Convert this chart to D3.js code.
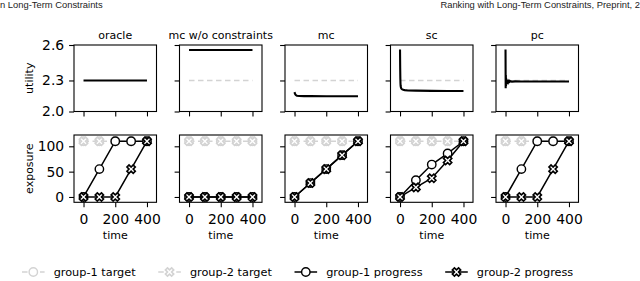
<!DOCTYPE html>
<html>
<head>
<meta charset="utf-8">
<script src="https://cdn.jsdelivr.net/npm/d3@7"></script>
<style>
  body { margin: 0; background: #fff; }
  svg { display: block; }
</style>
</head>
<body>
<svg id="chart" width="640" height="281"></svg>
<script>
// panel titles
const methods = ["oracle", "mc w/o constraints", "mc", "sc", "pc"];

// utility over time
const oracleUtilT = [0, 400];
const oracleUtil = [2.28, 2.28];
const mcwoUtilT = [0, 400];
const mcwoUtil = [2.555, 2.555];
const mcUtilT = [0, 3, 8, 15, 30, 60, 100, 200, 300, 400];
const mcUtil = [2.175, 2.16, 2.148, 2.142, 2.14, 2.139, 2.139, 2.138, 2.138, 2.137];
const scUtilT = [0, 1, 2, 3, 4, 6, 8, 12, 20, 30, 50, 100, 200, 300, 400];
const scUtil = [2.56, 2.40, 2.30, 2.25, 2.23, 2.215, 2.208, 2.202, 2.196, 2.193, 2.19, 2.188, 2.186, 2.185, 2.185];
const pcUtilT = [0, 1, 2, 3, 4, 5, 6, 8, 10, 12, 15, 18, 22, 26, 30, 40, 60, 100, 200, 300, 400];
const pcUtil = [2.56, 2.21, 2.33, 2.23, 2.30, 2.24, 2.29, 2.25, 2.285, 2.26, 2.28, 2.265, 2.277, 2.268, 2.274, 2.27, 2.272, 2.271, 2.271, 2.271, 2.271];

// exposure snapshots
const times = [0, 100, 200, 300, 400];
const target = [110, 110, 110, 110, 110];
const oracleG1 = [0, 55, 110, 110, 110];
const oracleG2 = [0, 0, 0, 55, 110];
const mcwoG1 = [0, 0, 0, 0, 0];
const mcwoG2 = [0, 0, 0, 0, 0];
const mcG1 = [0, 27.5, 55, 82.5, 110];
const mcG2 = [0, 27.5, 55, 82.5, 110];
const scG1 = [0, 33, 64, 86, 110];
const scG2 = [0, 19, 37, 72, 110];
const pcG1 = [0, 55, 110, 110, 110];
const pcG2 = [0, 0, 0, 55, 110];

const utilTicks = [2.0, 2.28, 2.6];   // labels print as 2.0 / 2.3 / 2.6
const expoTicks = [0, 50, 100];
const timeTicks = [0, 200, 400];
const legendLabels = ["group-1 target", "group-2 target", "group-1 progress", "group-2 progress"];

const utilSeries = [
  {t: oracleUtilT, v: oracleUtil},
  {t: mcwoUtilT, v: mcwoUtil},
  {t: mcUtilT, v: mcUtil},
  {t: scUtilT, v: scUtil},
  {t: pcUtilT, v: pcUtil}
];
const expoSeries = [
  {g1: oracleG1, g2: oracleG2},
  {g1: mcwoG1, g2: mcwoG2},
  {g1: mcG1, g2: mcG2},
  {g1: scG1, g2: scG2},
  {g1: pcG1, g2: pcG2}
];

const svg = d3.select("#chart");
const font = "DejaVu Sans, sans-serif";
const grey = "#d3d3d3";

// layout
const left0 = 74, step = 105.5, pw = 82.5;
const top1 = 45, ph1 = 66.5;
const top2 = 135, ph2 = 67.3;

const x = d3.scaleLinear().domain([-60, 460]).range([0, pw]);
const yU = d3.scaleLinear().domain([2.0, 2.6]).range([ph1, 0]);
const yE = d3.scaleLinear().domain([-10.5, 122.3]).range([ph2, 0]);

// marker shapes
const ms = 8.4;
function xMarker(size) {
  const pts = [[-1,-3],[1,-3],[1,-1],[3,-1],[3,1],[1,1],[1,3],[-1,3],[-1,1],[-3,1],[-3,-1],[-1,-1]];
  const c = Math.SQRT1_2;
  return "M" + pts.map(p => {
    const px = p[0] / 6 * size, py = p[1] / 6 * size;
    return [(px * c - py * c).toFixed(2), (px * c + py * c).toFixed(2)].join(",");
  }).join("L") + "Z";
}
const xShape = xMarker(ms * 1.05);

function drawCircles(g, data, color) {
  g.selectAll(null).data(data).enter().append("circle")
    .attr("cx", d => d[0]).attr("cy", d => d[1]).attr("r", ms / 2)
    .attr("fill", "#fff").attr("stroke", color).attr("stroke-width", 1.4);
}
function drawXs(g, data, color) {
  g.selectAll(null).data(data).enter().append("path")
    .attr("d", xShape)
    .attr("transform", d => `translate(${d[0]},${d[1]})`)
    .attr("fill", "#fff").attr("stroke", color).attr("stroke-width", 1.6)
    .attr("stroke-linejoin", "miter");
}

function styleAxis(g, size) {
  g.select(".domain").remove();
  g.selectAll(".tick line").attr("stroke", "#000").attr("stroke-width", 1.1);
  g.selectAll(".tick text").attr("fill", "#000").style("font-family", font).style("font-size", size + "px");
}

methods.forEach((m, i) => {
  const px = left0 + i * step;

  // ---------- top row: utility ----------
  const g1 = svg.append("g").attr("transform", `translate(${px},${top1})`);

  const ya = d3.axisLeft(yU).tickValues(utilTicks).tickSize(4.9).tickPadding(4.9)
    .tickFormat(i === 0 ? d3.format(".1f") : () => "");
  g1.append("g").call(ya).call(g => styleAxis(g, 13.9));
  const xa = d3.axisBottom(x).tickValues(timeTicks).tickSize(4.9).tickFormat(() => "");
  g1.append("g").attr("transform", `translate(0,${ph1})`).call(xa).call(g => styleAxis(g, 13.9));

  const line = d3.line().x(d => x(d[0])).y(d => yU(d[1]));
  if (i > 0) {
    // oracle reference, dashed grey
    g1.append("path")
      .attr("d", line(oracleUtilT.map((t, k) => [t, oracleUtil[k]])))
      .attr("fill", "none").attr("stroke", grey).attr("stroke-width", 1.5)
      .attr("stroke-dasharray", "5.5,3.5");
  }
  const us = utilSeries[i];
  g1.append("path")
    .attr("d", line(us.t.map((t, k) => [t, us.v[k]])))
    .attr("fill", "none").attr("stroke", "#000").attr("stroke-width", 2.1)
    .attr("stroke-linejoin", "miter");

  g1.append("rect").attr("width", pw).attr("height", ph1)
    .attr("fill", "none").attr("stroke", "#000").attr("stroke-width", 1.1);

  g1.append("text")
    .attr("x", pw / 2).attr("y", -6.5)
    .attr("text-anchor", "middle")
    .style("font-family", font).style("font-size", "11px")
    .text(m);

  // ---------- bottom row: exposure ----------
  const g2 = svg.append("g").attr("transform", `translate(${px},${top2})`);

  const yb = d3.axisLeft(yE).tickValues(expoTicks).tickSize(4.9).tickPadding(4.9)
    .tickFormat(i === 0 ? d3.format("d") : () => "");
  g2.append("g").call(yb).call(g => styleAxis(g, 13.9));
  const xb = d3.axisBottom(x).tickValues(timeTicks).tickSize(4.9).tickPadding(7);
  g2.append("g").attr("transform", `translate(0,${ph2})`).call(xb).call(g => styleAxis(g, 13.9));

  const eLine = d3.line().x(d => x(d[0])).y(d => yE(d[1]));
  const tgt = times.map((t, k) => [x(t), yE(target[k])]);
  const es = expoSeries[i];
  const p1 = times.map((t, k) => [x(t), yE(es.g1[k])]);
  const p2 = times.map((t, k) => [x(t), yE(es.g2[k])]);

  // targets
  g2.append("path").attr("d", eLine(times.map((t, k) => [t, target[k]])))
    .attr("fill", "none").attr("stroke", grey).attr("stroke-width", 1.5)
    .attr("stroke-dasharray", "5.5,3.5");
  drawCircles(g2, tgt, grey);
  drawXs(g2, tgt, grey);

  // progress
  g2.append("path").attr("d", eLine(times.map((t, k) => [t, es.g1[k]])))
    .attr("fill", "none").attr("stroke", "#000").attr("stroke-width", 1.5);
  drawCircles(g2, p1, "#000");
  g2.append("path").attr("d", eLine(times.map((t, k) => [t, es.g2[k]])))
    .attr("fill", "none").attr("stroke", "#000").attr("stroke-width", 1.5);
  drawXs(g2, p2, "#000");

  g2.append("rect").attr("width", pw).attr("height", ph2)
    .attr("fill", "none").attr("stroke", "#000").attr("stroke-width", 1.1);

  g2.append("text")
    .attr("x", pw / 2).attr("y", 103.5)
    .attr("text-anchor", "middle")
    .style("font-family", font).style("font-size", "11px")
    .text("time");
});

// y-axis labels
svg.append("text")
  .attr("transform", `translate(33,${top1 + ph1 / 2}) rotate(-90)`)
  .attr("text-anchor", "middle")
  .style("font-family", font).style("font-size", "11px")
  .text("utility");
svg.append("text")
  .attr("transform", `translate(33,${top2 + ph2 / 2}) rotate(-90)`)
  .attr("text-anchor", "middle")
  .style("font-family", font).style("font-size", "11px")
  .text("exposure");

// legend, laid out like a one-row matplotlib legend
const legFs = 11.3;
const legY = 272;
const leg = svg.append("g");
let lx = 22;
legendLabels.forEach((lab, k) => {
  const color = k < 2 ? grey : "#000";
  const hl = 2 * legFs;
  const ln = leg.append("line")
    .attr("x1", lx).attr("x2", lx + hl).attr("y1", legY).attr("y2", legY)
    .attr("stroke", color).attr("stroke-width", 1.5);
  if (k < 2) ln.attr("stroke-dasharray", "5.5,3.5");
  if (k % 2 === 0) drawCircles(leg, [[lx + hl / 2, legY]], color);
  else drawXs(leg, [[lx + hl / 2, legY]], color);
  const txt = leg.append("text")
    .attr("x", lx + hl + 0.8 * legFs).attr("y", legY + 4)
    .style("font-family", font).style("font-size", legFs + "px")
    .text(lab);
  lx += hl + 0.8 * legFs + txt.node().getComputedTextLength() + 2 * legFs;
});

// page header fragments
const hdrFont = "Liberation Sans Narrow, Liberation Sans, sans-serif";
svg.append("text").attr("x", 0).attr("y", 7.5)
  .style("font-family", hdrFont).style("font-size", "9.4px").attr("fill", "#222")
  .text("n Long-Term Constraints");
svg.append("text").attr("x", 640).attr("y", 7.5)
  .attr("text-anchor", "end")
  .style("font-family", hdrFont).style("font-size", "9.4px").attr("fill", "#222")
  .text("Ranking with Long-Term Constraints, Preprint, 2");
</script>
</body>
</html>
